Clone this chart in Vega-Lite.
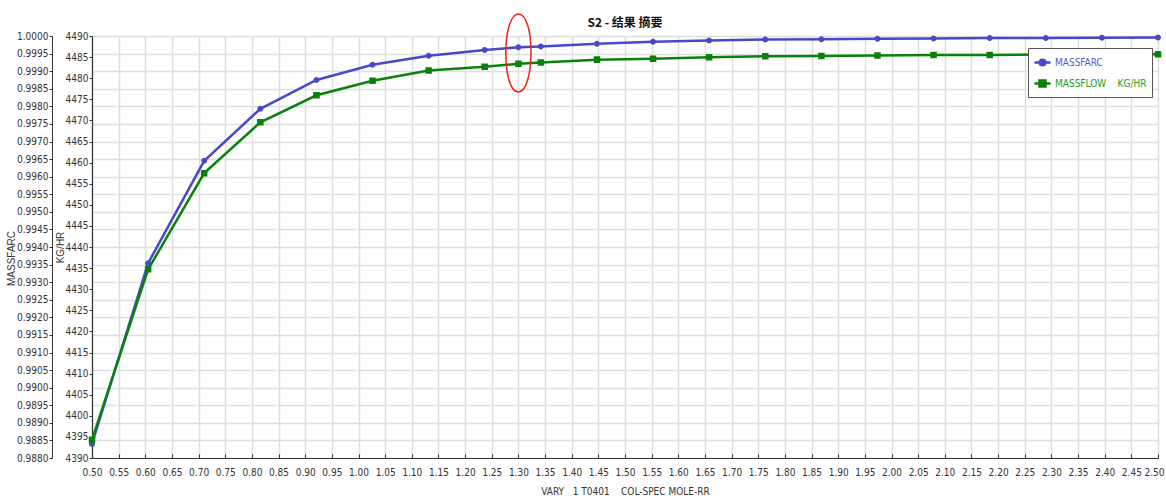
{
  "$schema": "https://vega.github.io/schema/vega-lite/v6.json",
  "width": 1066,
  "height": 422,
  "autosize": "none",
  "padding": {"left": 92, "top": 36, "right": 8, "bottom": 38},
  "background": "white",
  "title": {"text": "S2 - 结果 摘要", "font": "Noto Sans CJK SC", "fontSize": 12, "fontWeight": "bold", "color": "#111111", "anchor": "middle", "offset": -19},
  "config": {
    "view": {"stroke": null},
    "axis": {
      "labelFont": "'Liberation Sans Narrow', 'DejaVu Sans Condensed', 'Liberation Sans', sans-serif",
      "labelFontSize": 10,
      "labelColor": "#333333",
      "titleFont": "'Liberation Sans', sans-serif",
      "titleFontSize": 10,
      "titleFontWeight": "normal",
      "titleColor": "#333333",
      "domainColor": "#333333",
      "tickColor": "#333333",
      "gridColor": "#dedede",
      "gridWidth": 1.5,
      "labelOverlap": false
    }
  },
  "data": {
    "values": [
      {"vary": 0.5, "massfarc": 0.98840, "massflow": 4394.3},
      {"vary": 0.6053, "massfarc": 0.99354, "massflow": 4434.7},
      {"vary": 0.7105, "massfarc": 0.99645, "massflow": 4457.5},
      {"vary": 0.8158, "massfarc": 0.99793, "massflow": 4469.55},
      {"vary": 0.9211, "massfarc": 0.99875, "massflow": 4475.95},
      {"vary": 1.0263, "massfarc": 0.99918, "massflow": 4479.4},
      {"vary": 1.1316, "massfarc": 0.99944, "massflow": 4481.8},
      {"vary": 1.2368, "massfarc": 0.99960, "massflow": 4482.7},
      {"vary": 1.30, "massfarc": 0.99968, "massflow": 4483.4},
      {"vary": 1.3421, "massfarc": 0.99970, "massflow": 4483.7},
      {"vary": 1.4474, "massfarc": 0.99978, "massflow": 4484.4},
      {"vary": 1.5526, "massfarc": 0.99984, "massflow": 4484.6},
      {"vary": 1.6579, "massfarc": 0.99987, "massflow": 4484.95},
      {"vary": 1.7632, "massfarc": 0.99990, "massflow": 4485.2},
      {"vary": 1.8684, "massfarc": 0.99991, "massflow": 4485.25},
      {"vary": 1.9737, "massfarc": 0.99992, "massflow": 4485.4},
      {"vary": 2.0789, "massfarc": 0.99993, "massflow": 4485.5},
      {"vary": 2.1842, "massfarc": 0.99994, "massflow": 4485.5},
      {"vary": 2.2895, "massfarc": 0.99994, "massflow": 4485.6},
      {"vary": 2.3947, "massfarc": 0.99995, "massflow": 4485.6},
      {"vary": 2.5, "massfarc": 0.99996, "massflow": 4485.7}
    ]
  },
  "encoding": {
    "x": {
      "field": "vary", "type": "quantitative",
      "scale": {"domain": [0.5, 2.5], "nice": false, "zero": false},
      "axis": {
        "orient": "bottom",
        "values": [0.5, 0.55, 0.6, 0.65, 0.7, 0.75, 0.8, 0.85, 0.9, 0.95, 1.0, 1.05, 1.1, 1.15, 1.2, 1.25, 1.3, 1.35, 1.4, 1.45, 1.5, 1.55, 1.6, 1.65, 1.7, 1.75, 1.8, 1.85, 1.9, 1.95, 2.0, 2.05, 2.1, 2.15, 2.2, 2.25, 2.3, 2.35, 2.4, 2.45, 2.5],
        "format": ".2f",
        "labelAngle": 0,
        "labelFlush": false,
        "labelOverlap": false,
        "labelSeparation": 0,
        "labelAlign": {"condition": {"test": "datum.value >= 2.49", "value": "right"}, "value": "center"},
        "labelOffset": {"condition": {"test": "datum.value >= 2.49", "value": 6}, "value": 0},
        "grid": true,
        "tickSize": -4,
        "labelPadding": 13,
        "title": "VARY\u00a0\u00a0\u00a01 T0401\u00a0\u00a0\u00a0\u00a0COL-SPEC MOLE-RR",
        "titleFont": "'Liberation Sans Narrow', 'DejaVu Sans Condensed', 'Liberation Sans', sans-serif",
        "titlePadding": 9,
        "domainWidth": 1.2
      }
    }
  },
  "layer": [
    {
      "mark": {"type": "line", "strokeWidth": 2.5, "point": {"filled": true, "size": 294}},
      "encoding": {
        "y": {
          "field": "massfarc", "type": "quantitative",
          "scale": {"domain": [0.988, 1.0], "nice": false, "zero": false},
          "axis": {
            "orient": "left",
            "offset": 40,
            "title": "MASSFARC",
            "values": [0.988, 0.9885, 0.989, 0.9895, 0.99, 0.9905, 0.991, 0.9915, 0.992, 0.9925, 0.993, 0.9935, 0.994, 0.9945, 0.995, 0.9955, 0.996, 0.9965, 0.997, 0.9975, 0.998, 0.9985, 0.999, 0.9995, 1.0],
            "format": ".4f",
            "labelOverlap": false,
            "grid": true,
            "tickSize": 3,
            "labelPadding": 1,
            "titlePadding": 0,
            "titleY": 222
          }
        },
        "color": {
          "datum": "MASSFARC", "type": "nominal",
          "scale": {"domain": ["MASSFARC", "MASSFLOW\u00a0\u00a0\u00a0\u00a0KG/HR"], "range": ["#4848c8", "#0a820a"]},
          "legend": {
            "title": null,
            "orient": "none",
            "legendX": 936,
            "legendY": 12,
            "strokeColor": "#555555",
            "fillColor": "white",
            "padding": 5,
            "labelFont": "'Liberation Sans Narrow', 'DejaVu Sans Condensed', 'Liberation Sans', sans-serif",
            "labelFontSize": 10,
            "symbolSize": 256,
            "rowPadding": 3,
            "labelOffset": 3,
            "symbolStrokeWidth": 2.5,
            "encode": {
              "symbols": {
                "update": {
                  "fill": {"signal": "datum.value === 'MASSFARC' ? '#4848c8' : '#0a820a'"},
                  "stroke": {"signal": "datum.value === 'MASSFARC' ? '#4848c8' : '#0a820a'"},
                  "strokeWidth": {"value": 2.5}
                }
              },
              "labels": {
                "update": {
                  "fill": {"signal": "datum.value === 'MASSFARC' ? '#5a5ad0' : '#259a25'"}
                }
              }
            }
          }
        },
        "shape": {
          "datum": "MASSFARC", "type": "nominal",
          "scale": {
            "domain": ["MASSFARC", "MASSFLOW\u00a0\u00a0\u00a0\u00a0KG/HR"],
            "range": [
              "M-1,0H1M-0.35,0A0.35,0.35 0 1,1 0.35,0A0.35,0.35 0 1,1 -0.35,0Z",
              "M-1,0H1M-0.38,-0.38H0.38V0.38H-0.38Z"
            ]
          }
        }
      }
    },
    {
      "mark": {"type": "line", "strokeWidth": 2.5, "point": {"filled": true, "size": 294}},
      "encoding": {
        "y": {
          "field": "massflow", "type": "quantitative",
          "scale": {"domain": [4390, 4490], "nice": false, "zero": false},
          "axis": {
            "orient": "left",
            "offset": 0,
            "title": "KG/HR",
            "values": [4390, 4395, 4400, 4405, 4410, 4415, 4420, 4425, 4430, 4435, 4440, 4445, 4450, 4455, 4460, 4465, 4470, 4475, 4480, 4485, 4490],
            "format": "d",
            "labelOverlap": false,
            "grid": false,
            "tickSize": 3,
            "labelPadding": 1,
            "titlePadding": 0,
            "domainWidth": 1.2
          }
        },
        "color": {"datum": "MASSFLOW\u00a0\u00a0\u00a0\u00a0KG/HR", "type": "nominal"},
        "shape": {"datum": "MASSFLOW\u00a0\u00a0\u00a0\u00a0KG/HR", "type": "nominal"}
      }
    },
    {
      "data": {"values": [{"vary": 1.30, "massfarc": 0.99952}]},
      "mark": {
        "type": "point",
        "filled": false,
        "shape": "M0,-1C0.44,-1 0.42,1 0,1C-0.44,1 -0.42,-1 0,-1Z",
        "size": 6084,
        "stroke": "#e8241c",
        "strokeWidth": 1.5,
        "opacity": 1
      },
      "encoding": {
        "y": {
          "field": "massfarc", "type": "quantitative",
          "scale": {"domain": [0.988, 1.0], "nice": false, "zero": false},
          "axis": null
        }
      }
    }
  ],
  "resolve": {"scale": {"y": "independent"}, "axis": {"y": "independent"}}
}
